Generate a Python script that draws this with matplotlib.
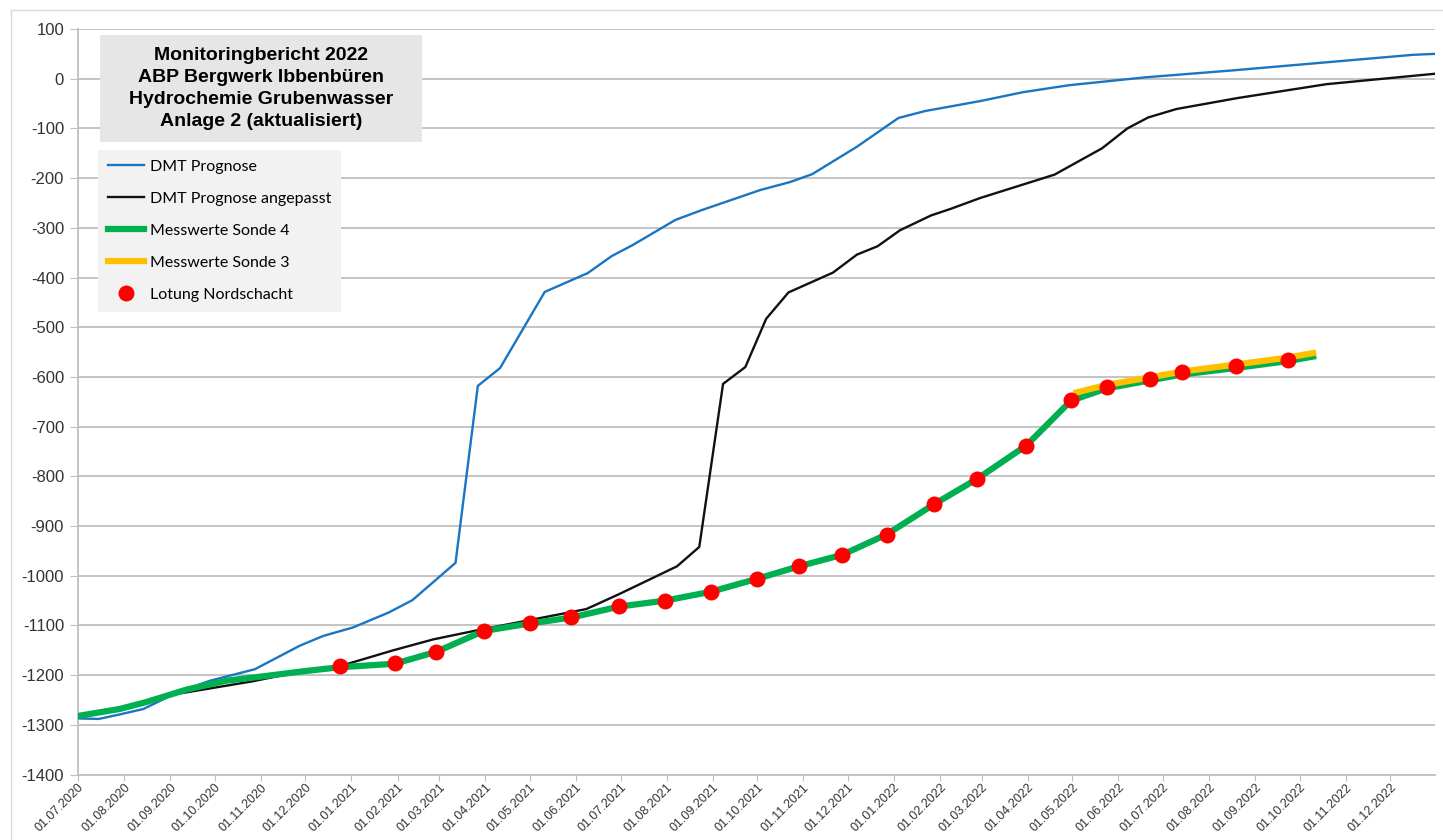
import matplotlib
matplotlib.use("Agg")
import matplotlib.pyplot as plt
import matplotlib.dates as mdates
from matplotlib.patches import Rectangle
from matplotlib.lines import Line2D
import pandas as pd

plt.rcParams["axes.unicode_minus"] = False

# DMT Prognose
prog_dates = ["01.07.2020", "15.07.2020", "29.07.2020", "14.08.2020", "07.09.2020",
              "28.09.2020", "28.10.2020", "27.11.2020", "13.12.2020", "02.01.2021",
              "26.01.2021", "11.02.2021", "12.03.2021", "27.03.2021", "11.04.2021",
              "11.05.2021", "09.06.2021", "25.06.2021", "09.07.2021", "07.08.2021",
              "25.08.2021", "03.10.2021", "23.10.2021", "07.11.2021", "07.12.2021",
              "04.01.2022", "22.01.2022", "28.02.2022", "29.03.2022", "29.04.2022",
              "20.06.2022", "18.08.2022", "16.12.2022", "31.12.2022"]
prog_vals = [-1287, -1288, -1279, -1268, -1233,
             -1211, -1188, -1141, -1121, -1104,
             -1074, -1049, -974, -618, -582,
             -429, -391, -357, -335, -284,
             -264, -224, -208, -192, -137,
             -79, -65, -45, -27, -13,
             3, 17, 48, 50]

# DMT Prognose angepasst
adj_dates = ["01.07.2020", "29.07.2020", "16.08.2020", "05.09.2020", "27.10.2020",
             "14.11.2020", "24.12.2020", "29.01.2021", "25.02.2021", "26.03.2021",
             "26.04.2021", "08.06.2021", "30.06.2021", "08.08.2021", "23.08.2021",
             "08.09.2021", "23.09.2021", "07.10.2021", "22.10.2021", "21.11.2021",
             "07.12.2021", "21.12.2021", "05.01.2022", "26.01.2022", "08.02.2022",
             "28.02.2022", "19.04.2022", "21.05.2022", "07.06.2022", "21.06.2022",
             "10.07.2022", "20.08.2022", "19.10.2022", "31.12.2022"]
adj_vals = [-1284, -1270, -1254, -1238, -1212,
            -1201, -1182, -1150, -1128, -1110,
            -1092, -1067, -1037, -981, -942,
            -614, -580, -483, -430, -390,
            -354, -337, -305, -275, -262,
            -240, -193, -140, -100, -78,
            -61, -39, -11, 10]

# Messwerte Sonde 4
s4_dates = ["01.07.2020", "29.07.2020", "16.08.2020", "12.09.2020", "09.10.2020",
            "29.10.2020", "30.11.2020", "24.12.2020", "30.01.2021", "27.02.2021",
            "31.03.2021", "01.05.2021", "29.05.2021", "30.06.2021", "31.07.2021",
            "31.08.2021", "01.10.2021", "29.10.2021", "27.11.2021", "27.12.2021",
            "28.01.2022", "26.02.2022", "31.03.2022", "30.04.2022", "24.05.2022",
            "22.06.2022", "14.07.2022", "19.08.2022", "23.09.2022", "10.10.2022"]
s4_vals = [-1282, -1268, -1254, -1229, -1211,
           -1204, -1192, -1184, -1177, -1153,
           -1111, -1096, -1084, -1062, -1050,
           -1032, -1006, -981, -958, -917,
           -856, -805, -738, -648, -623,
           -607, -595, -582, -568, -559]

# Messwerte Sonde 3
s3_dates = ["04.05.2022", "24.05.2022", "22.06.2022", "14.07.2022", "19.08.2022",
            "23.09.2022", "10.10.2022"]
s3_vals = [-631, -616, -601, -589, -575, -561, -552]

# Lotung Nordschacht
lot_dates = ["24.12.2020", "30.01.2021", "27.02.2021", "31.03.2021", "01.05.2021",
             "29.05.2021", "30.06.2021", "31.07.2021", "31.08.2021", "01.10.2021",
             "29.10.2021", "27.11.2021", "27.12.2021", "28.01.2022", "26.02.2022",
             "31.03.2022", "30.04.2022", "24.05.2022", "22.06.2022", "14.07.2022",
             "19.08.2022", "23.09.2022"]
lot_vals = [-1182, -1176, -1153, -1111, -1096,
            -1083, -1061, -1050, -1032, -1006,
            -981, -958, -917, -856, -805,
            -738, -646, -620, -604, -591,
            -578, -565]

title_lines = ["Monitoringbericht 2022", "ABP Bergwerk Ibbenbüren",
               "Hydrochemie Grubenwasser", "Anlage 2 (aktualisiert)"]


def to_dt(lst):
    return pd.to_datetime(lst, format="%d.%m.%Y")


W, H = 1443, 840
fig = plt.figure(figsize=(W / 100, H / 100), dpi=100)
ax = fig.add_axes([78 / W, 1 - 774.6 / H, (1435 - 78) / W, (774.6 - 29) / H])

ax.plot(to_dt(prog_dates), prog_vals, color="#1a75c2", lw=1.7, label="DMT Prognose", zorder=3)
ax.plot(to_dt(adj_dates), adj_vals, color="#111111", lw=1.7, label="DMT Prognose angepasst", zorder=3)
ax.plot(to_dt(s4_dates), s4_vals, color="#00b050", lw=4.5, label="Messwerte Sonde 4", zorder=4)
ax.plot(to_dt(s3_dates), s3_vals, color="#ffc000", lw=4.5, label="Messwerte Sonde 3", zorder=4)
ax.plot(to_dt(lot_dates), lot_vals, "o", color="#ff0000", ms=11.5, mec="none",
        label="Lotung Nordschacht", zorder=5)

ax.set_xlim(pd.Timestamp("2020-07-01"), pd.Timestamp("2022-12-31"))
ax.set_ylim(-1400, 100)
ax.set_yticks(range(-1400, 101, 100))
ax.xaxis.set_major_locator(mdates.MonthLocator())
ax.xaxis.set_major_formatter(mdates.DateFormatter("%d.%m.%Y"))

ax.grid(axis="y", color="#bfbfbf", lw=1.3)
ax.set_axisbelow(True)
for s in ["top", "right"]:
    ax.spines[s].set_visible(False)
for s in ["left", "bottom"]:
    ax.spines[s].set_color("#bfbfbf")
    ax.spines[s].set_linewidth(1.3)
ax.tick_params(axis="y", length=6, color="#bfbfbf", labelsize=12, labelcolor="#333333", pad=4)
ax.tick_params(axis="x", length=4, color="#bfbfbf", labelsize=9, labelcolor="#333333",
               pad=1)
for lab in ax.get_xticklabels():
    lab.set_rotation(45)
    lab.set_ha("right")
    lab.set_rotation_mode("anchor")
    lab.set_family("Liberation Sans")
for lab in ax.get_yticklabels():
    lab.set_family("Liberation Sans")

leg = ax.legend(loc="upper left", bbox_to_anchor=(98 / W, 1 - 150 / H),
                bbox_transform=fig.transFigure, borderaxespad=0, fancybox=False,
                facecolor="#f2f2f2", edgecolor="none", framealpha=1,
                prop={"family": "Lato", "size": 11.5}, handlelength=2.3,
                handletextpad=0.35, labelspacing=1.12, borderpad=0.6)
leg.set_zorder(10)

# title box
fig.patches.append(Rectangle((100 / W, 1 - 142 / H), 322 / W, 107 / H,
                             transform=fig.transFigure, facecolor="#e6e6e6",
                             edgecolor="none", zorder=5))
fig.text(261 / W, 1 - 88.5 / H, "\n".join(title_lines), ha="center", va="center",
         fontsize=14, fontweight="bold", family="Liberation Sans", linespacing=1.38,
         zorder=6)

# chart border
fig.lines.append(Line2D([11 / W, 11 / W], [0, 1 - 10 / H], transform=fig.transFigure,
                        color="#d9d9d9", lw=1))
fig.lines.append(Line2D([11 / W, 1], [1 - 10 / H, 1 - 10 / H], transform=fig.transFigure,
                        color="#d9d9d9", lw=1))

fig.savefig("out.png", dpi=100)
